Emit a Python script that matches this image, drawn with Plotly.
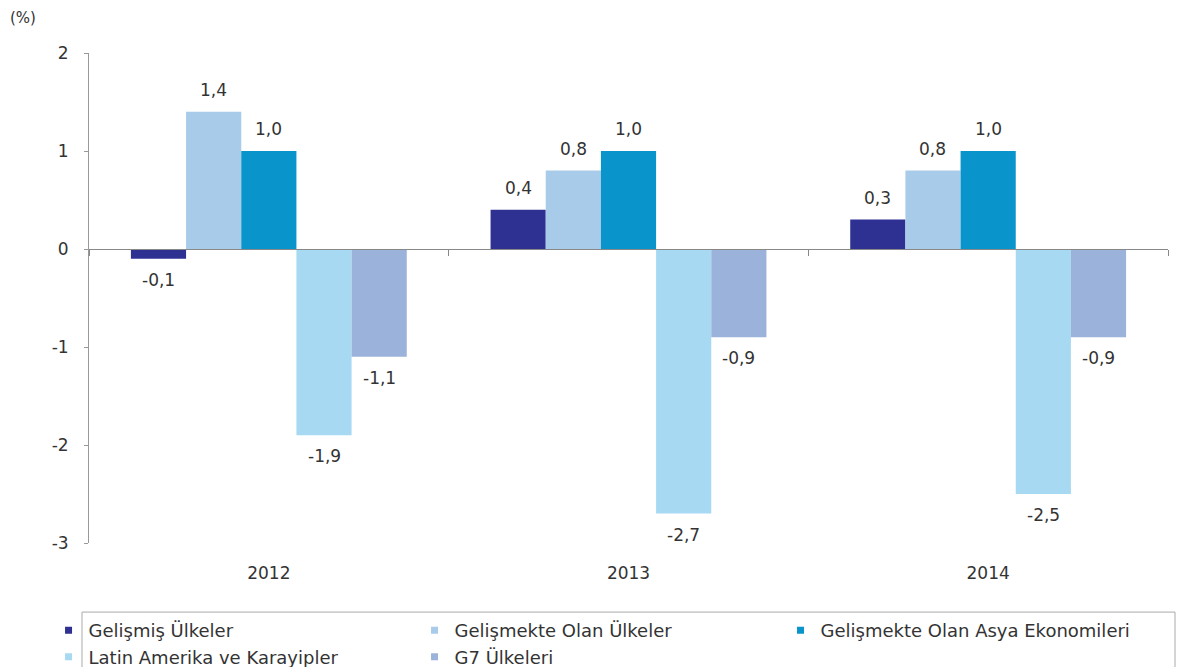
import plotly.graph_objects as go

years = ["2012", "2013", "2014"]
series_names = [
    "Gelişmiş Ülkeler",
    "Gelişmekte Olan Ülkeler",
    "Gelişmekte Olan Asya Ekonomileri",
    "Latin Amerika ve Karayipler",
    "G7 Ülkeleri",
]
gelismis = [-0.1, 0.4, 0.3]
gelismekte = [1.4, 0.8, 0.8]
asya = [1.0, 1.0, 1.0]
latin = [-1.9, -2.7, -2.5]
g7 = [-1.1, -0.9, -0.9]
y_ticks = [-3, -2, -1, 0, 1, 2]
y_ticktext = ["-3", "-2", "-1", "0", "1", "2"]

colors = ["#2E3192", "#A9CBEA", "#0A94CC", "#A8D9F3", "#9BB3DA"]
all_values = [gelismis, gelismekte, asya, latin, g7]

FONT = "DejaVu Sans, Liberation Sans, Arial"
BARGAP = 0.233

fig = go.Figure()
for name, vals, col in zip(series_names, all_values, colors):
    fig.add_trace(go.Bar(
        x=years, y=vals, name=name, marker_color=col, marker_line_width=0,
        legendgroup=name, showlegend=False, hoverinfo="x+y+name",
    ))
# legend entries with small square keys
for name, col in zip(series_names, colors):
    fig.add_trace(go.Scatter(
        x=[None], y=[None], mode="markers", name=name, legendgroup=name,
        marker=dict(symbol="square", size=7, color=col), hoverinfo="skip",
    ))

# zero line with category separator ticks
fig.add_trace(go.Scatter(x=[None], y=[None], xaxis="x2", showlegend=False, hoverinfo="skip"))

# value labels placed on each bar (bar slot within the group from the bar gap)
n = len(all_values)
slot = (1 - BARGAP) / n
annotations = []
for i, vals in enumerate(all_values):
    for j, v in enumerate(vals):
        annotations.append(dict(
            x=j + (i - (n - 1) / 2) * slot, y=v, xref="x", yref="y",
            text=f"{v:.1f}".replace(".", ","), showarrow=False,
            yanchor="middle", yshift=22 if v >= 0 else -21,
            font=dict(size=17, color="#333333", family=FONT),
        ))
annotations.append(dict(text="(%)", xref="paper", yref="paper", x=-0.075, y=1.071,
                        xanchor="left", yanchor="middle", showarrow=False,
                        font=dict(size=15, color="#333333")))

fig.update_layout(
    width=1178, height=667,
    margin=dict(l=89, r=10, t=53, b=124, autoexpand=False),
    plot_bgcolor="white", paper_bgcolor="white",
    font=dict(family=FONT, size=17, color="#333333"),
    barmode="group", bargap=BARGAP, bargroupgap=0,
    xaxis=dict(showline=False, ticks="", showgrid=False, zeroline=False,
               ticklabelstandoff=18, tickfont=dict(size=17)),
    xaxis2=dict(overlaying="x", anchor="free", position=0.6, range=[-0.5, 2.5],
                tickvals=[-0.5, 0.5, 1.5, 2.5], ticks="outside", ticklen=6,
                tickcolor="#888888", showticklabels=False, showline=True,
                linecolor="#888888", linewidth=1, showgrid=False, zeroline=False),
    yaxis=dict(range=[-3, 2], tickvals=y_ticks, ticktext=y_ticktext,
               showgrid=False, zeroline=False,
               showline=True, linecolor="#999999", ticks="outside", ticklen=4,
               tickcolor="#999999", tickfont=dict(size=17), ticklabelstandoff=12),
    legend=dict(orientation="h", x=-0.0375, xanchor="left", y=-0.141, yanchor="top",
                entrywidth=321, borderwidth=0, bgcolor="rgba(0,0,0,0)",
                font=dict(size=18, color="#333333"), itemwidth=30,
                traceorder="normal", tracegroupgap=0),
    shapes=[dict(type="rect", xref="paper", yref="paper",
                 x0=-0.0065, x1=1.0065, y0=-0.141, y1=-0.27,
                 line=dict(color="#aaaaaa", width=1), fillcolor="rgba(0,0,0,0)",
                 layer="below")],
    annotations=annotations,
)

fig.write_html("out.html", config={"displayModeBar": False},
               post_script="document.body.style.margin='0';")
